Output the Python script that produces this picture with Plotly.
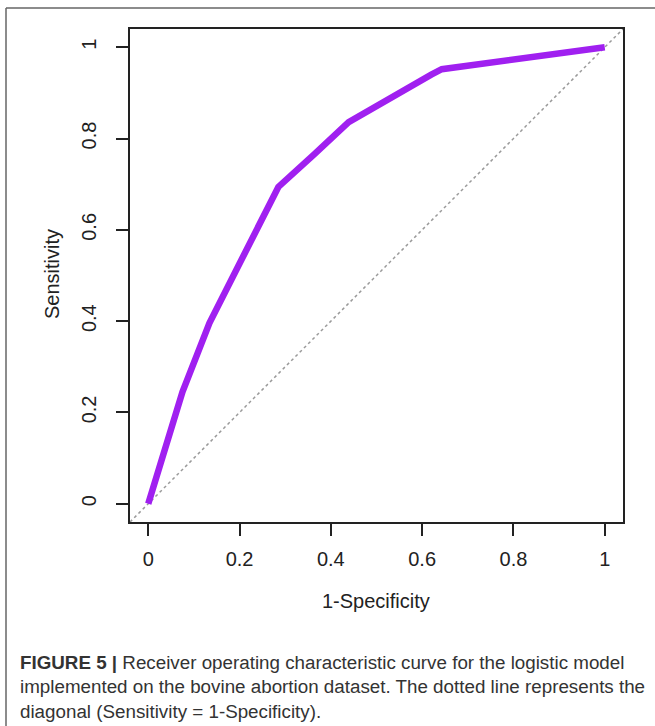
import plotly.graph_objects as go

# ROC curve points
fpr = [0.0, 0.075, 0.134, 0.285, 0.364, 0.439, 0.62, 0.643, 1.0]
tpr = [0.0, 0.245, 0.396, 0.694, 0.766, 0.836, 0.94, 0.952, 1.0]
tick_vals = [0, 0.2, 0.4, 0.6, 0.8, 1]
tick_text = ["0", "0.2", "0.4", "0.6", "0.8", "1"]
axis_range = [-0.04, 1.04]

W, H = 655, 726
L, R, T, B = 130, 32, 29, 204
pw, ph = W - L - R, H - T - B

def px(x):
    return (x - L) / pw

def py(y):
    return (H - B - y) / ph

FONT = "Liberation Sans, Arial, sans-serif"

fig = go.Figure()
fig.add_trace(go.Scatter(
    x=axis_range, y=axis_range, mode="lines",
    line=dict(color="#9a9a9a", width=1.5, dash="3px,3px"),
    hoverinfo="skip", showlegend=False))
fig.add_trace(go.Scatter(
    x=fpr, y=tpr, mode="lines",
    line=dict(color="#A020F0", width=6.5),
    showlegend=False))

axis_common = dict(
    range=axis_range, tickvals=tick_vals, ticktext=tick_text,
    showgrid=False, zeroline=False, showline=True, mirror=True,
    linecolor="#222", linewidth=1.5, ticks="outside", ticklen=12,
    tickwidth=1.5, tickcolor="#222",
    tickfont=dict(family=FONT, size=20, color="#222"),
)

fig.update_layout(
    width=W, height=H,
    margin=dict(l=L, r=R, t=T, b=B),
    paper_bgcolor="white", plot_bgcolor="white",
    xaxis=dict(**axis_common, ticklabelstandoff=6),
    yaxis=dict(**axis_common, tickangle=-90, ticklabelstandoff=12),
    shapes=[
        dict(type="line", xref="paper", yref="paper",
             x0=px(6), x1=px(6), y0=py(8), y1=py(726),
             line=dict(color="#666", width=1.5)),
        dict(type="line", xref="paper", yref="paper",
             x0=px(6), x1=px(660), y0=py(8), y1=py(8),
             line=dict(color="#666", width=1.5)),
    ],
    annotations=[
        dict(text="1-Specificity", xref="paper", yref="paper",
             x=px(376), y=py(601), showarrow=False,
             font=dict(family=FONT, size=20, color="#222"),
             xanchor="center", yanchor="middle"),
        dict(text="Sensitivity", xref="paper", yref="paper",
             x=px(52), y=py(274), showarrow=False, textangle=-90,
             font=dict(family=FONT, size=20, color="#222"),
             xanchor="center", yanchor="middle"),
        dict(text="<b>FIGURE 5 |</b> Receiver operating characteristic curve for the logistic model<br>"
                  "implemented on the bovine abortion dataset. The dotted line represents the<br>"
                  "diagonal (Sensitivity = 1-Specificity).",
             xref="paper", yref="paper", x=px(18), y=py(650),
             showarrow=False, align="left", xanchor="left", yanchor="top",
             font=dict(family=FONT, size=18.8, color="#333")),
    ],
)

fig.write_html("out.html")
